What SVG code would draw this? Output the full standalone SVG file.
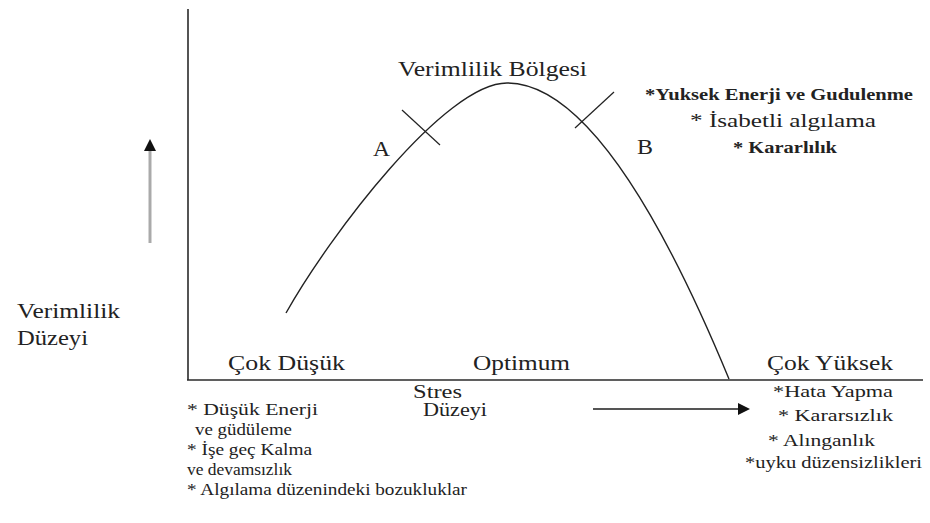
<svg xmlns="http://www.w3.org/2000/svg" width="930" height="523" viewBox="0 0 930 523" font-family="'Liberation Serif', 'DejaVu Serif', serif">
<style>
  text { font-family: 'Liberation Serif', 'DejaVu Serif', serif; fill: #222; }
  .lg { font-size: 20px; }
  .md { font-size: 18px; }
  .sm { font-size: 16px; }
  .b { font-weight: bold; }
  .axis { stroke: #2a2a2a; stroke-width: 1.6; fill: none; }
  .curve { stroke: #222; stroke-width: 1.4; fill: none; }
  .tick { stroke: #222; stroke-width: 1.2; }
</style>
<rect width="930" height="523" fill="#ffffff"/>

<g id="connectors">
  <line class="axis" x1="188" y1="9" x2="188" y2="380"/>
  <line class="axis" x1="187" y1="380" x2="923" y2="380"/>
  <line x1="150" y1="243" x2="150" y2="150" stroke="#aaaaaa" stroke-width="3"/>
  <polygon points="150,139 144,151 156,151" fill="#111"/>
  <line x1="593" y1="409" x2="739" y2="409" stroke="#555" stroke-width="2"/>
  <polygon points="738,403 750,409 738,415" fill="#111"/>
</g>

<g id="curve">
  <path class="curve" d="M286,313 C330,235 445,83 507,83 C580,83 655,200 729,379"/>
  <line class="tick" x1="402" y1="110" x2="440" y2="145"/>
  <line class="tick" x1="575" y1="128" x2="614" y2="92"/>
</g>

<g id="title">
  <text class="lg" x="398" y="76" textLength="189" lengthAdjust="spacingAndGlyphs">Verimlilik Bölgesi</text>
</g>
<g id="label-A"><text class="lg" x="373" y="156" textLength="17" lengthAdjust="spacingAndGlyphs">A</text></g>
<g id="label-B"><text class="lg" x="637" y="154" textLength="16" lengthAdjust="spacingAndGlyphs">B</text></g>

<g id="optimum-notes">
  <text class="sm b" x="645" y="100" textLength="268" lengthAdjust="spacingAndGlyphs">*Yuksek Enerji ve Gudulenme</text>
  <text class="md" x="690" y="127" textLength="186" lengthAdjust="spacingAndGlyphs">* İsabetli algılama</text>
  <text class="sm b" x="733" y="153" textLength="104" lengthAdjust="spacingAndGlyphs">* Kararlılık</text>
</g>

<g id="y-label">
  <text class="lg" x="17" y="318" textLength="103" lengthAdjust="spacingAndGlyphs">Verimlilik</text>
  <text class="lg" x="17" y="345" textLength="71" lengthAdjust="spacingAndGlyphs">Düzeyi</text>
</g>

<g id="x-levels">
  <text class="lg" x="228" y="370" textLength="117" lengthAdjust="spacingAndGlyphs">Çok Düşük</text>
  <text class="lg" x="473" y="370" textLength="97" lengthAdjust="spacingAndGlyphs">Optimum</text>
  <text class="lg" x="767" y="370" textLength="126" lengthAdjust="spacingAndGlyphs">Çok Yüksek</text>
</g>

<g id="x-label">
  <text class="md" x="413" y="398" textLength="49" lengthAdjust="spacingAndGlyphs">Stres</text>
  <text class="md" x="423" y="416" textLength="64" lengthAdjust="spacingAndGlyphs">Düzeyi</text>
</g>

<g id="low-notes">
  <text class="sm" x="187" y="415" textLength="131" lengthAdjust="spacingAndGlyphs">* Düşük Enerji</text>
  <text class="sm" x="195" y="435" textLength="97" lengthAdjust="spacingAndGlyphs">ve güdüleme</text>
  <text class="sm" x="187" y="455" textLength="125" lengthAdjust="spacingAndGlyphs">* İşe geç Kalma</text>
  <text class="sm" x="187" y="475" textLength="105" lengthAdjust="spacingAndGlyphs">ve devamsızlık</text>
  <text class="sm" x="187" y="495" textLength="280" lengthAdjust="spacingAndGlyphs">* Algılama düzenindeki bozukluklar</text>
</g>

<g id="high-notes">
  <text class="sm" x="773" y="397" textLength="120" lengthAdjust="spacingAndGlyphs">*Hata Yapma</text>
  <text class="sm" x="778" y="421" textLength="115" lengthAdjust="spacingAndGlyphs">* Kararsızlık</text>
  <text class="sm" x="768" y="446" textLength="107" lengthAdjust="spacingAndGlyphs">* Alınganlık</text>
  <text class="sm" x="745" y="468" textLength="177" lengthAdjust="spacingAndGlyphs">*uyku düzensizlikleri</text>
</g>
</svg>
